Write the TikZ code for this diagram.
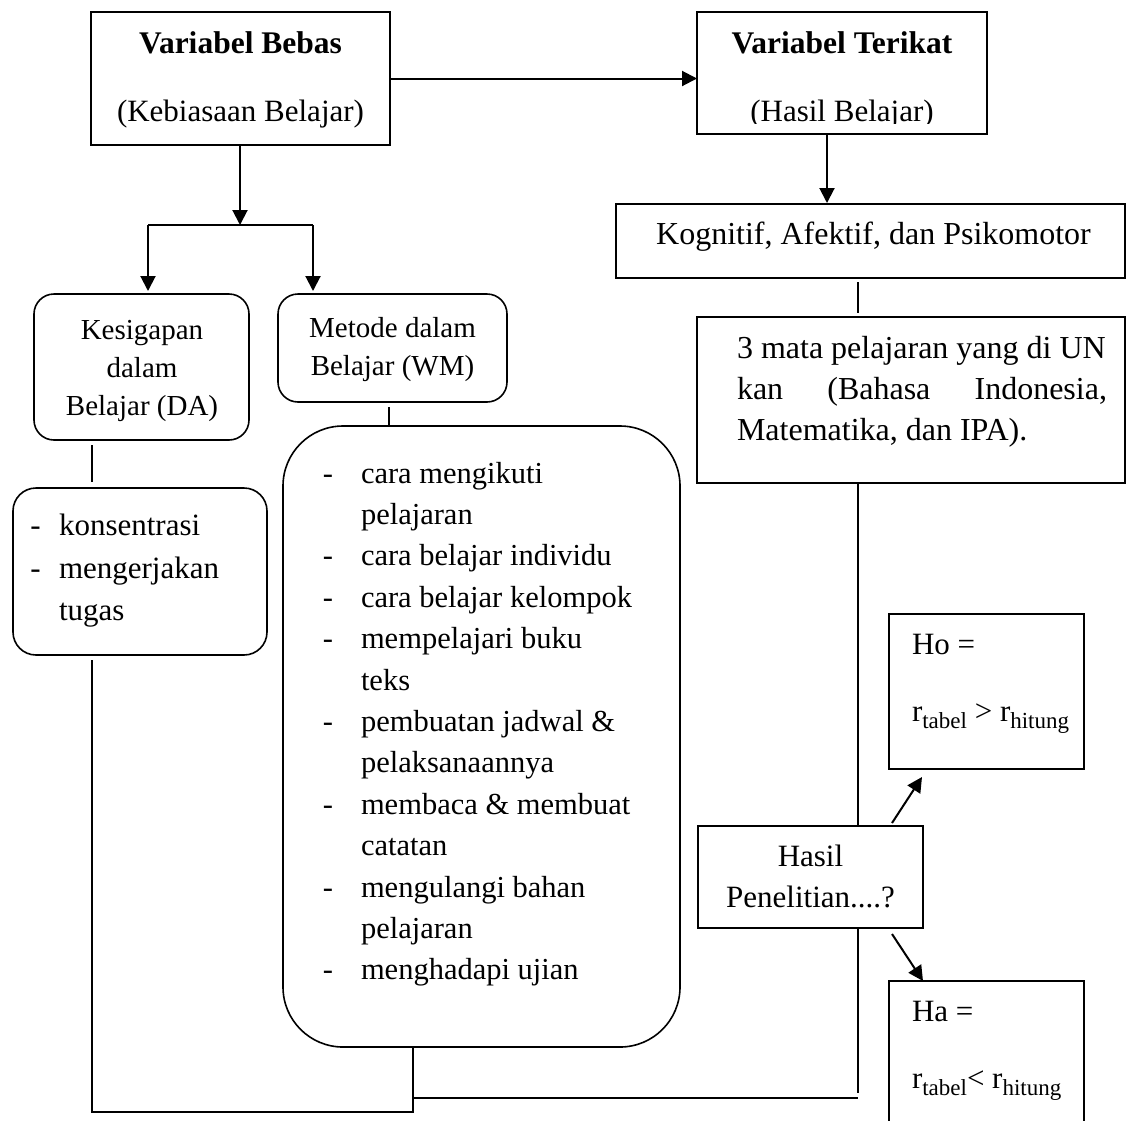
\documentclass[tikz,border=0pt]{standalone}
\usepackage{fontspec}
\setmainfont{Liberation Serif}
\usetikzlibrary{arrows.meta,calc}
\newcommand{\mysub}[1]{\raisebox{-7pt}{\fontsize{23}{23}\selectfont #1}}
\begin{document}
\begin{tikzpicture}[x=1pt,y=-1pt,
  topbox/.style={draw, line width=2.4pt, inner sep=0pt, outer sep=0pt},
  sqbox/.style={draw, line width=1.6pt, inner sep=0pt, outer sep=0pt},
  rbox/.style={draw, line width=1.6pt, rounded corners=20pt, inner sep=0pt, outer sep=0pt},
  ln/.style={line width=1.5pt},
  arr/.style={line width=2pt, -{Triangle[length=15pt,width=15pt]}},
  big/.style={inner sep=0pt, outer sep=0pt, font=\fontsize{31}{31}\selectfont},
  bigb/.style={inner sep=0pt, outer sep=0pt, font=\bfseries\fontsize{31.5}{31.5}\selectfont},
  mid/.style={inner sep=0pt, outer sep=0pt, font=\fontsize{29}{29}\selectfont},
  lst/.style={inner sep=0pt, outer sep=0pt, font=\fontsize{30.5}{30.5}\selectfont},
  mat/.style={inner sep=0pt, outer sep=0pt, font=\fontsize{32}{32}\selectfont}
]
\useasboundingbox (0,0) rectangle (1126,1120);

% ---------- boxes ----------
\node[topbox, minimum width=299pt, minimum height=133pt] (b1) at (240.5,78.5) {};
\node[topbox, minimum width=290pt, minimum height=122pt] (b2) at (842,73) {};
\node[sqbox, minimum width=509pt, minimum height=74pt] (kog) at (870.5,241) {};
\node[sqbox, minimum width=428pt, minimum height=166pt] (mata) at (911,400) {};
\node[sqbox, minimum width=225pt, minimum height=102pt] (hasil) at (810.5,877) {};
\node[sqbox, minimum width=195pt, minimum height=155pt] (ho) at (986.5,691.5) {};
\node[sqbox, minimum width=195pt, minimum height=149pt] (ha) at (986.5,1055.5) {};
\node[rbox, minimum width=215pt, minimum height=146pt] (kes) at (141.5,367) {};
\node[rbox, minimum width=229pt, minimum height=108pt] (met) at (392.5,348) {};
\node[rbox, rounded corners=23pt, minimum width=254pt, minimum height=167pt] (kon) at (140,571.5) {};
\node[rbox, rounded corners=60pt, minimum width=397pt, minimum height=621pt] (bigb) at (481.5,736.5) {};

% ---------- texts ----------
\node[bigb, anchor=base] (t1a) at (240.5,53) {Variabel Bebas};
\node[big, anchor=base] (t1b) at (240.5,121) {(Kebiasaan Belajar)};
\node[bigb, anchor=base] (t2a) at (842,53) {Variabel Terikat};
\begin{scope}
  \clip (700,90) rectangle (984,123);
  \node[big, anchor=base] (t2b) at (842,121) {(Hasil Belajar)};
\end{scope}
\node[mat, anchor=base] (tkog) at (873.5,244) {Kognitif, Afektif, dan Psikomotor};
\node[mat, anchor=base west] (tm1) at (737,358) {3 mata pelajaran yang di UN};
\node[mat, anchor=base west] (tm2) at (737,399) {\hbox to 370pt{kan\hfill(Bahasa\hfill Indonesia,}};
\node[mat, anchor=base west] (tm3) at (737,440) {Matematika, dan IPA).};

\node[big, anchor=base] (th1) at (810.5,866) {Hasil};
\node[big, anchor=base] (th2) at (810.5,907) {Penelitian....?};
\node[big, anchor=base west] (tho1) at (912,654) {Ho =};
\node[big, anchor=base west] (tho2) at (912,721) {r\mysub{tabel} > r\mysub{hitung}};
\node[big, anchor=base west] (tha1) at (912,1021) {Ha =};
\node[big, anchor=base west] (tha2) at (912,1088) {r\mysub{tabel}< r\mysub{hitung}};

\node[mid, anchor=base] (tk1) at (142,339) {Kesigapan};
\node[mid, anchor=base] (tk2) at (142,377) {dalam};
\node[mid, anchor=base] (tk3) at (142,415) {Belajar (DA)};
\node[mid, anchor=base] (tmt1) at (392.5,337) {Metode dalam};
\node[mid, anchor=base] (tmt2) at (392.5,375) {Belajar (WM)};

\node[big, anchor=base] (kd1) at (35.5,535) {-};
\node[big, anchor=base west] (kt1) at (59,535) {konsentrasi};
\node[big, anchor=base] (kd2) at (35.5,578) {-};
\node[big, anchor=base west] (kt2) at (59,578) {mengerjakan};
\node[big, anchor=base west] (kt3) at (59,620) {tugas};

\foreach \i/\t in {0/cara mengikuti, 1/pelajaran, 2/cara belajar individu,
  3/cara belajar kelompok, 4/mempelajari buku, 5/teks, 6/pembuatan jadwal \&,
  7/pelaksanaannya, 8/membaca \& membuat, 9/catatan, 10/mengulangi bahan,
  11/pelajaran, 12/menghadapi ujian}
  \node[lst, anchor=base west] (l\i) at (361,{483+41.4*\i}) {\t};
\foreach \i in {0,2,3,4,6,8,10,12}
  \node[lst, anchor=base] (d\i) at (328,{483+41.4*\i}) {-};

% ---------- connectors ----------
\coordinate (j1) at (240,225);
\coordinate (jl) at (148,225);
\coordinate (jr) at (313,225);
\coordinate (c827) at (827,0);
\coordinate (cx) at (858,0);
\coordinate (cm) at (389,0);
\coordinate (bl) at (92,1112);
\coordinate (br) at (413,1112);
\coordinate (ml) at (413,1098);
\coordinate (mr) at (858,1098);

\draw[arr] (b1.east) -- (b1.east -| b2.west);
\draw[arr] (b1.south -| j1) -- (j1);
\draw[ln] (jl) -- (jr);
\draw[arr, shorten >=3pt] (jl) -- (jl |- kes.north);
\draw[arr, shorten >=3pt] (jr) -- (jr |- met.north);
\draw[arr, shorten >=1pt] (b2.south -| c827) -- (kog.north -| c827);

\draw[ln, shorten <=4pt, shorten >=4pt] (kog.south -| cx) -- (mata.north -| cx);
\draw[ln] (mata.south -| cx) -- (hasil.north -| cx);
\draw[ln] (hasil.south -| mr) -- (mr |- 0,1093);
\draw[ln] (ml) -- (mr);

\draw[ln, shorten <=5pt, shorten >=6pt] (kes.south -| bl) -- (kon.north -| bl);
\draw[ln, shorten <=5pt] (kon.south -| bl) -- (bl) -- (br) -- (bigb.south -| br);
\draw[ln, shorten <=5pt] (met.south -| cm) -- (bigb.north -| cm);

\draw[arr] ($(hasil.north east)+(-31,-3)$) -- ($(ho.south west)+(33,8)$);
\draw[arr] ($(hasil.south east)+(-31,6)$) -- ($(ha.north west)+(34,0)$);
\end{tikzpicture}
\end{document}
